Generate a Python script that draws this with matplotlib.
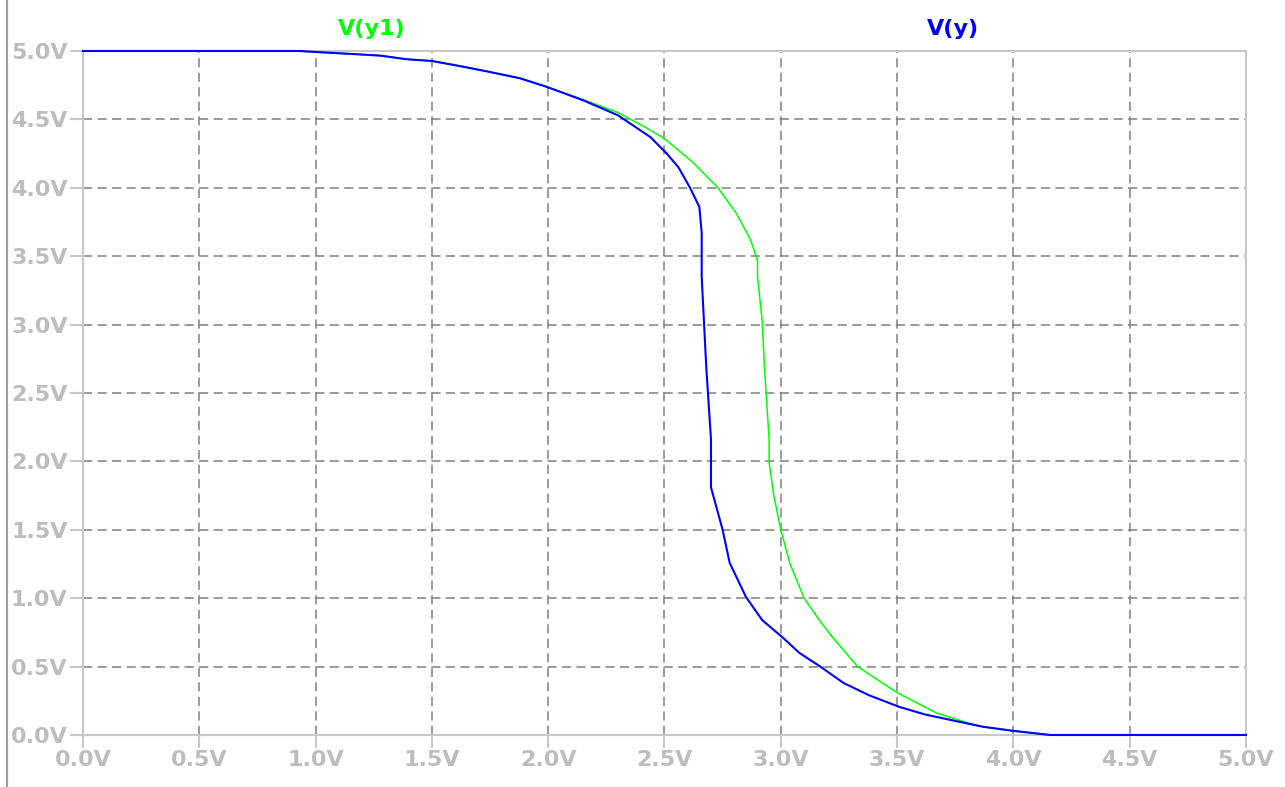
import numpy as np
import matplotlib.pyplot as plt
from matplotlib.ticker import FuncFormatter

# sweep of V(x) in volts, and the two outputs
vx_y = [0.0, 0.93, 1.03, 1.18, 1.28, 1.39, 1.50, 1.62, 1.74, 1.88, 1.99, 2.15, 2.30,
        2.44, 2.51, 2.56, 2.61, 2.65, 2.66, 2.66, 2.68, 2.70, 2.70, 2.75, 2.78, 2.85,
        2.92, 3.01, 3.08, 3.17, 3.27, 3.38, 3.51, 3.62, 3.73, 3.87, 4.0, 4.08, 4.16, 5.0]
v_y = [5.0, 5.0, 4.99, 4.976, 4.966, 4.94, 4.927, 4.89, 4.85, 4.80, 4.74, 4.64, 4.53,
       4.37, 4.25, 4.15, 4.0, 3.86, 3.67, 3.35, 2.68, 2.16, 1.81, 1.50, 1.26, 1.01,
       0.84, 0.71, 0.60, 0.50, 0.38, 0.29, 0.205, 0.15, 0.11, 0.06, 0.03, 0.015, 0.0, 0.0]

vx_y1 = [0.0, 0.93, 1.03, 1.18, 1.28, 1.39, 1.50, 1.62, 1.74, 1.88, 1.99, 2.15, 2.30,
         2.42, 2.50, 2.62, 2.73, 2.81, 2.87, 2.90, 2.90, 2.92, 2.93, 2.95, 2.95, 2.97,
         3.0, 3.04, 3.10, 3.17, 3.22, 3.33, 3.50, 3.67, 3.83, 3.87, 4.0, 4.08, 4.16, 5.0]
v_y1 = [5.0, 5.0, 4.99, 4.976, 4.966, 4.94, 4.927, 4.89, 4.85, 4.80, 4.74, 4.645, 4.55,
        4.44, 4.36, 4.19, 4.0, 3.81, 3.62, 3.47, 3.35, 3.03, 2.68, 2.16, 1.99, 1.75,
        1.50, 1.25, 1.0, 0.83, 0.72, 0.50, 0.31, 0.16, 0.075, 0.06, 0.03, 0.015, 0.0, 0.0]

ticks = np.arange(0, 5.01, 0.5)

label_gray = '#bdbdbd'
frame_gray = '#c8c8c8'

fig = plt.figure(figsize=(12.85, 7.87), dpi=100)
ax = fig.add_axes([0.0646, 0.0661, 0.9050, 0.8691])

ax.plot(vx_y1, v_y1, color='#00ff00', lw=1.1, clip_on=False, zorder=3)
ax.plot(vx_y, v_y, color='#0000ff', lw=1.5, clip_on=False, zorder=4)

ax.set_xlim(0, 5)
ax.set_ylim(0, 5)
ax.set_xticks(ticks)
ax.set_yticks(ticks)
fmt = FuncFormatter(lambda v, p: f'{v:.1f}V')
ax.xaxis.set_major_formatter(fmt)
ax.yaxis.set_major_formatter(fmt)

ax.grid(True, color='#808080', lw=1.1, linestyle=(0, (6, 3.5)))
for s in ax.spines.values():
    s.set_color(frame_gray)
    s.set_linewidth(1.5)
ax.tick_params(colors=frame_gray, length=9.5, width=1.5, labelcolor=label_gray,
               labelsize=16, pad=1.5)
for lab in ax.get_xticklabels() + ax.get_yticklabels():
    lab.set_fontweight('bold')

fig.text(372 / 1285, 1 - 29 / 787, 'V(y1)', color='#00ff00', fontsize=16,
         fontweight='bold', ha='center', va='center')
fig.text(953 / 1285, 1 - 29 / 787, 'V(y)', color='#0000ff', fontsize=16,
         fontweight='bold', ha='center', va='center')

# window edge on the left
fig.add_artist(plt.Line2D([6.5 / 1285, 6.5 / 1285], [0, 1], color='#a0a0a0', lw=1.5,
                          transform=fig.transFigure))

fig.savefig('out.png', dpi=100)
